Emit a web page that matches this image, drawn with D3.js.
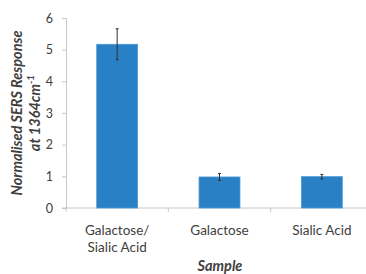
<!DOCTYPE html>
<html>
<head>
<meta charset="utf-8">
<script src="https://d3js.org/d3.v7.min.js"></script>
<style>
  body { margin: 0; background: #fff; }
  svg { display: block; }
</style>
</head>
<body>
<div id="chart"></div>
<script>
const categories = [['Galactose/', 'Sialic Acid'], ['Galactose'], ['Sialic Acid']]
const values = [5.17, 0.98, 0.99]
const errors = [0.49, 0.11, 0.07]
const yTicks = [0, 1, 2, 3, 4, 5, 6]

const width = 366
const height = 274
const margin = {top: 18, right: -7, bottom: 66, left: 66}

const svg = d3.select('#chart').append('svg')
  .attr('width', width)
  .attr('height', height)

const font = 'Lato, "Open Sans", sans-serif'
const textCol = '#404040'

const x = d3.scaleBand()
  .domain(d3.range(categories.length))
  .range([margin.left, width - margin.right])
  .paddingInner(0.6)
  .paddingOuter(0.3)

const y = d3.scaleLinear()
  .domain([0, 6])
  .range([height - margin.bottom, margin.top])

// y axis
const gy = svg.append('g')
  .attr('transform', `translate(${margin.left},0)`)
  .call(d3.axisLeft(y).tickValues(yTicks).tickFormat(d3.format('d')).tickSize(4).tickPadding(9))
gy.select('.domain').attr('stroke', '#c8c8c8')
gy.selectAll('.tick line').attr('stroke', '#c8c8c8')
gy.selectAll('.tick text')
  .attr('fill', textCol)
  .style('font-family', font)
  .style('font-size', '12.5px')

// x axis line and category dividers
const step = x.step()
const y0 = y(0)
svg.append('line')
  .attr('x1', margin.left - 4).attr('x2', width)
  .attr('y1', y0).attr('y2', y0)
  .attr('stroke', '#c8c8c8')
d3.range(categories.length + 1).forEach(i => {
  const xt = margin.left + i * step
  svg.append('line')
    .attr('x1', xt).attr('x2', xt)
    .attr('y1', y0).attr('y2', y0 + 4)
    .attr('stroke', '#c8c8c8')
})

// bars
svg.append('g').selectAll('rect')
  .data(values)
  .join('rect')
  .attr('x', (d, i) => x(i))
  .attr('width', x.bandwidth())
  .attr('y', d => y(d))
  .attr('height', d => y(0) - y(d))
  .attr('fill', '#2a80c4')
  .attr('stroke', '#4b9ad6')
  .attr('stroke-width', 0.8)

// error bars
const gErr = svg.append('g').attr('stroke', '#303030').attr('stroke-width', 1)
values.forEach((v, i) => {
  const cx = x(i) + x.bandwidth() / 2
  const top = y(v + errors[i])
  const bot = y(v - errors[i])
  gErr.append('line').attr('x1', cx).attr('x2', cx).attr('y1', top).attr('y2', bot)
  gErr.append('line').attr('x1', cx - 1.5).attr('x2', cx + 1.5).attr('y1', top).attr('y2', top)
  gErr.append('line').attr('x1', cx - 1.5).attr('x2', cx + 1.5).attr('y1', bot).attr('y2', bot)
})

// category labels
categories.forEach((lines, i) => {
  const cx = margin.left + (i + 0.5) * step
  const t = svg.append('text')
    .attr('text-anchor', 'middle')
    .attr('fill', textCol)
    .style('font-family', font)
    .style('font-size', '13.5px')
  lines.forEach((l, j) => {
    t.append('tspan').attr('x', cx).attr('y', 235 + j * 16.5).text(l)
  })
})

// axis titles
svg.append('text')
  .attr('x', 220).attr('y', 271)
  .attr('text-anchor', 'middle')
  .attr('fill', textCol)
  .style('font-family', font)
  .style('font-size', '14.5px')
  .style('font-weight', 'bold')
  .style('font-style', 'italic')
  .text('Sample')

const yt = svg.append('text')
  .attr('transform', 'translate(0,113) rotate(-90)')
  .attr('text-anchor', 'middle')
  .attr('fill', textCol)
  .style('font-family', font)
  .style('font-size', '14.5px')
  .style('font-weight', 'bold')
  .style('font-style', 'italic')
yt.append('tspan').attr('x', 0).attr('y', 22).text('Normalised SERS Response')
const l2 = yt.append('tspan').attr('x', 0).attr('y', 40).text('at 1364cm')
l2.append('tspan').attr('dy', -6).style('font-size', '10px').text('-1')
</script>
</body>
</html>
